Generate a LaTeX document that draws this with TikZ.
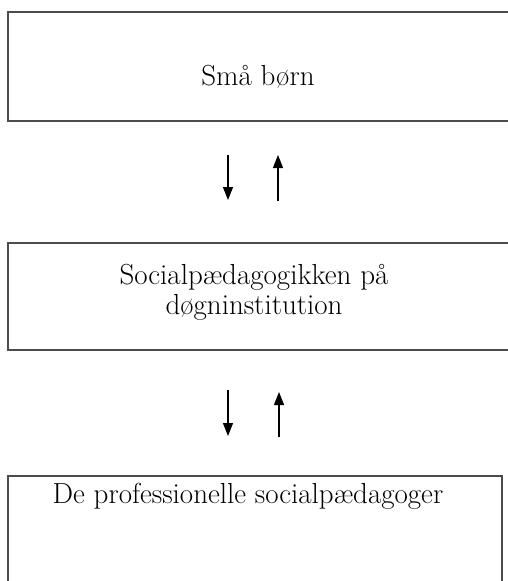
\documentclass[tikz,border=0pt]{standalone}
\usetikzlibrary{arrows.meta}
\begin{document}
\begin{tikzpicture}[x=1pt,y=-1pt,
  box/.style={draw=black!70,line width=1.5pt,minimum width=503pt,anchor=north west,inner sep=0pt},
  txt/.style={font=\fontsize{29}{30}\selectfont,align=center,inner sep=0pt},
  arr/.style={line width=1.1pt,-{Triangle[width=10pt,length=13pt]}}]
\useasboundingbox (0,0) rectangle (507,581);
\node[box,minimum height=109pt] (b1) at (7,11) {};
\node[box,minimum height=107pt] (b2) at (7,242) {};
\node[box,minimum width=494pt,minimum height=120pt] (b3) at (7,475) {};
\node[txt] (t1) at (258,77) {Små børn};
\node[txt] (t2) at (254,292) {Socialpædagogikken på\\døgninstitution};
\node[txt] (t3) at (248,496) {De professionelle socialpædagoger};
\coordinate (d1s) at (228,155); \coordinate (d1e) at (228,200);
\coordinate (u1s) at (278,201); \coordinate (u1e) at (278,155);
\coordinate (d2s) at (228,390); \coordinate (d2e) at (228,436);
\coordinate (u2s) at (279,437); \coordinate (u2e) at (279,392);
\draw[arr] (d1s) -- (d1e);
\draw[arr] (u1s) -- (u1e);
\draw[arr] (d2s) -- (d2e);
\draw[arr] (u2s) -- (u2e);
\end{tikzpicture}
\end{document}
